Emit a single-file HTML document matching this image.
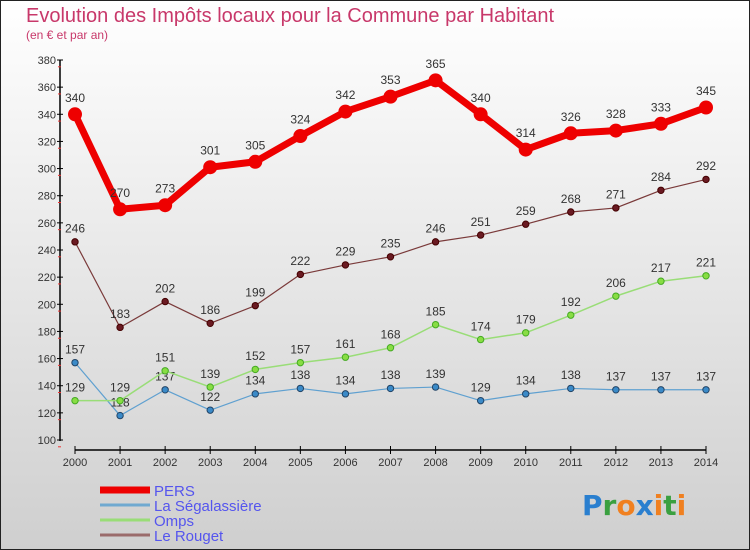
<!DOCTYPE html>
<html><head><meta charset="utf-8"><style>
body{margin:0}
#wrap{width:750px;height:550px;position:relative;box-sizing:border-box;border:1px solid #222;background:linear-gradient(#ffffff,#e2e2e2 60%,#cfcfcf);font-family:"Liberation Sans",sans-serif;overflow:hidden}
</style></head><body>
<div id="wrap">
<svg id="svg" width="750" height="550" style="position:absolute;left:-1px;top:-1px"></svg>
</div>
<script>
const years=["2000","2001","2002","2003","2004","2005","2006","2007","2008","2009","2010","2011","2012","2013","2014"];
const pers=[340,270,273,301,305,324,342,353,365,340,314,326,328,333,345];
const sega=[157,118,137,122,134,138,134,138,139,129,134,138,137,137,137];
const omps=[129,129,151,139,152,157,161,168,185,174,179,192,206,217,221];
const rouget=[246,183,202,186,199,222,229,235,246,251,259,268,271,284,292];
const yTicks=[100,120,140,160,180,200,220,240,260,280,300,320,340,360,380];
const NS="http://www.w3.org/2000/svg";
const svg=document.getElementById('svg');
function X(i){return 75+i*(631/14);}
function Y(v){return 440-(v-100)*(380/280);}
function el(t,a,p){const e=document.createElementNS(NS,t);for(const k in a)e.setAttribute(k,a[k]);(p||svg).appendChild(e);return e;}
function txt(s,x,y,a){const e=el('text',Object.assign({'font-family':'Liberation Sans, sans-serif'},a));e.setAttribute('x',x);e.setAttribute('y',y);e.textContent=s;return e;}
let t=txt("Evolution des Impôts locaux pour la Commune par Habitant",26,22,{'font-size':20,fill:'#c8386a'});

t=txt("(en € et par an)",26,39,{'font-size':12,fill:'#c8386a'});

// axes
let a=el('line',{x1:60,y1:60,x2:60,y2:441,stroke:'#000','stroke-width':1.5});

yTicks.forEach(v=>{const y=Y(v);el('line',{x1:57,y1:y,x2:63,y2:y,stroke:'#000'});
 el('line',{x1:58,y1:y+6.8,x2:61,y2:y+6.8,stroke:'#e33'});
 const l=txt(v,56,y+4,{'font-size':11,fill:'#333','text-anchor':'end'});
 });
a=el('line',{x1:75,y1:450,x2:706,y2:450,stroke:'#000','stroke-width':1.5});

years.forEach((s,i)=>{el('line',{x1:X(i),y1:446,x2:X(i),y2:454,stroke:'#000'});
 const l=txt(s,X(i),466,{'font-size':11,fill:'#333','text-anchor':'middle'});
 });
function series(name,data,color,w,r,dot,stroke){
 const g=el('g',{});
 el('polyline',{points:data.map((v,i)=>X(i)+','+Y(v)).join(' '),fill:'none',stroke:color,'stroke-width':w,'stroke-linejoin':'round'},g);
 data.forEach((v,i)=>{const c=el('circle',{cx:X(i),cy:Y(v),r:r,fill:dot,stroke:stroke,'stroke-width':1},g);
  
  const l=txt(v,X(i),Y(v)-r-6,{'font-size':12,fill:'#333','text-anchor':'middle'});
  });
}
series('la-segalassiere',sega,'#5fa0d0',1.2,3.2,'#3a8ac8','#246');
series('omps',omps,'#99dd77',1.5,3.2,'#88dd44','#4a2');
series('le-rouget',rouget,'#7a3a3a',1.2,3.2,'#6a1a22','#400');
series('pers',pers,'#ee0000',7,6.5,'#ee0000','#ee0000');
// legend
const leg=[["PERS","#ee0000",7],["La Ségalassière","#6fa9d0",3],["Omps","#99dd77",3],["Le Rouget","#9a6b6b",3]];
leg.forEach((d,i)=>{const y=490+i*15;
 const g=el('g',{});
 el('line',{x1:100,y1:y,x2:150,y2:y,stroke:d[1],'stroke-width':d[2]},g);
 const l=txt(d[0],154,y+6,{'font-size':15,fill:'#5555ee'});g.appendChild(l);});
// logo
const lg=el('text',{x:582,y:515,'font-size':28,'font-family':'DejaVu Sans, sans-serif','font-weight':'bold'});

[["P","#2a7fcf"],["r","#3aa040"],["o","#f08020"],["x","#2a7fcf"],["i","#f08020"],["t","#3aa040"],["i","#f08020"]].forEach(c=>{const s=el('tspan',{fill:c[1]},lg);s.textContent=c[0];});
</script>
</body></html>
